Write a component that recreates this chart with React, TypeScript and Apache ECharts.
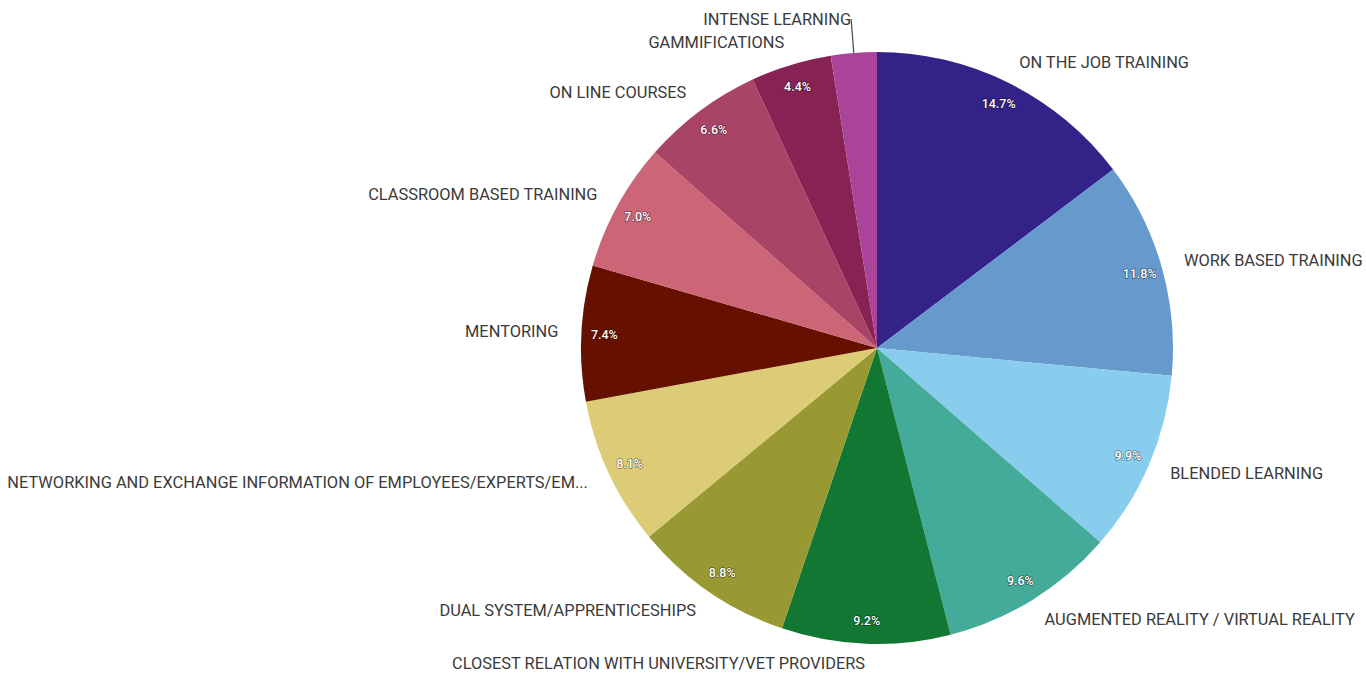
import React, { useEffect, useRef } from "react";
import * as echarts from "echarts";

const categories = [
  "ON THE JOB TRAINING",
  "WORK BASED TRAINING",
  "BLENDED LEARNING",
  "AUGMENTED REALITY / VIRTUAL REALITY",
  "CLOSEST RELATION WITH UNIVERSITY/VET PROVIDERS",
  "DUAL SYSTEM/APPRENTICESHIPS",
  "NETWORKING AND EXCHANGE INFORMATION OF EMPLOYEES/EXPERTS/EM...",
  "MENTORING",
  "CLASSROOM BASED TRAINING",
  "ON LINE COURSES",
  "GAMMIFICATIONS",
  "INTENSE LEARNING",
];

const values = [14.7, 11.8, 9.9, 9.6, 9.2, 8.8, 8.1, 7.4, 7.0, 6.6, 4.4, 2.5];

const colors = [
  "#332288",
  "#6699cc",
  "#88ccee",
  "#44aa99",
  "#117733",
  "#999933",
  "#ddcc77",
  "#661100",
  "#cc6677",
  "#aa4466",
  "#882255",
  "#aa4499",
];

// slices too small to carry an inner percentage label
const hideInner = ["INTENSE LEARNING"];
// slices whose outer label uses a visible leader line
const leaderLine = ["INTENSE LEARNING"];
// slices near the bottom edge whose outer label sits a little closer
const closeLabel = ["CLOSEST RELATION WITH UNIVERSITY/VET PROVIDERS"];

export default function App() {
  const ref = useRef<HTMLDivElement>(null);

  useEffect(() => {
    document.body.style.margin = "0";
    if (!ref.current) return;
    const chart = echarts.init(ref.current, undefined, { renderer: "svg" });

    const outerData = categories.map((name, i) => {
      const item: any = { name, value: values[i], itemStyle: { color: colors[i] } };
      if (leaderLine.includes(name)) {
        item.labelLine = { show: true, length: 34, length2: 0, lineStyle: { color: "#444", width: 1.2 } };
      }
      if (closeLabel.includes(name)) {
        item.labelLine = { show: false, length: 20, length2: 0 };
      }
      return item;
    });

    const innerData = categories.map((name, i) => ({
      name,
      value: values[i],
      label: { show: !hideInner.includes(name) },
    }));

    chart.setOption({
      animation: false,
      backgroundColor: "#ffffff",
      series: [
        {
          type: "pie",
          center: [877, 348],
          radius: 296,
          startAngle: 90,
          clockwise: true,
          avoidLabelOverlap: false,
          silent: true,
          data: outerData,
          itemStyle: { borderWidth: 0 },
          label: {
            show: true,
            position: "outside",
            formatter: "{b}",
            fontFamily: "Roboto, 'Noto Sans', sans-serif",
            fontSize: 16.4,
            lineHeight: 17,
            color: "#3a3a3a",
            overflow: "none",
            distanceToLabelLine: 0,
          },
          labelLine: { show: false, length: 23, length2: 0 },
        },
        {
          type: "pie",
          center: [877, 348],
          radius: [244, 296],
          startAngle: 90,
          clockwise: true,
          avoidLabelOverlap: false,
          silent: true,
          data: innerData,
          itemStyle: { color: "rgba(0,0,0,0)", borderWidth: 0 },
          label: {
            position: "inside",
            formatter: (p: any) => `${Number(p.value).toFixed(1)}%`,
            fontFamily: "Roboto, 'Noto Sans', sans-serif",
            fontSize: 12.5,
            fontWeight: 500,
            color: "#ffffff",
            textBorderColor: "rgba(0,0,0,0.45)",
            textBorderWidth: 1.5,
          },
          labelLine: { show: false },
        },
      ],
    });

    return () => chart.dispose();
  }, []);

  return <div ref={ref} style={{ width: 1366, height: 674 }} />;
}
